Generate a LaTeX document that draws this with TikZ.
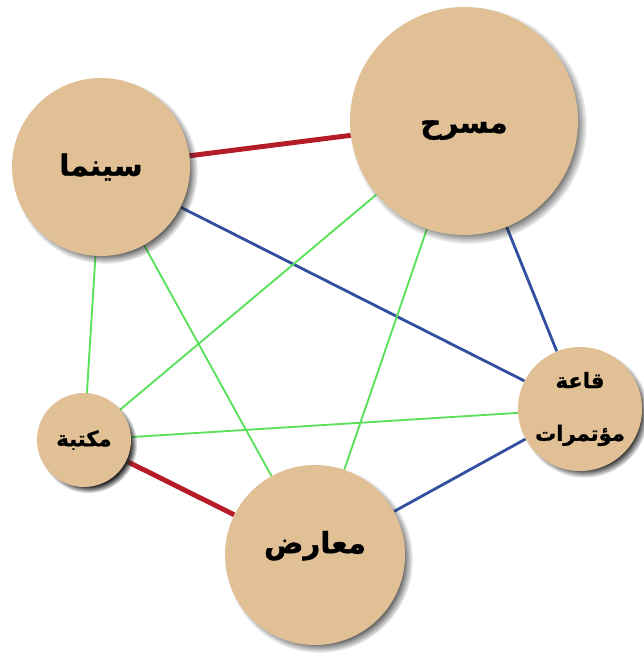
\documentclass[tikz,border=0pt]{standalone}
\usepackage{fontspec}
\newfontfamily\arabicfont[Script=Arabic,FakeBold=1.2]{DejaVu Sans}
\TeXXeTstate=1
\usetikzlibrary{shadows,backgrounds}
\definecolor{venuetan}{RGB}{224,192,148}
\definecolor{linkred}{RGB}{180,28,40}
\definecolor{linkblue}{RGB}{50,80,160}
\definecolor{linkgreen}{RGB}{90,225,90}

\begin{document}
\begin{tikzpicture}[x=0.03cm,y=-0.03cm,
  venue/.style={circle,fill=venuetan,inner sep=0pt,align=center,
    circular drop shadow={shadow xshift=3.5pt,shadow yshift=-3.5pt,shadow scale=1.04,fill=black!85},
    font=\arabicfont\bfseries\fontsize{25}{30}\selectfont},
  strong/.style={linkred,line width=4.2pt},
  medium/.style={linkblue,line width=2.4pt},
  weak/.style={linkgreen,line width=1.6pt}]
  \useasboundingbox (0,0) rectangle (643,657);
  % venues
  \node[venue,minimum size=5.34cm] (cinema) at (101,167) {\beginR سينما\endR};
  \node[venue,minimum size=6.84cm] (theatre) at (464,121) {\raisebox{-10pt}[0pt][0pt]{\beginR مسرح\endR}};
  \node[venue,minimum size=3.72cm,font=\arabicfont\bfseries\fontsize{18}{21}\selectfont] (hall) at (580,409) {\beginR قاعة\endR\\[24pt]\beginR مؤتمرات\endR};
  \node[venue,minimum size=2.82cm,font=\arabicfont\bfseries\fontsize{18}{21}\selectfont] (library) at (84,440) {\beginR مكتبة\endR};
  \node[venue,minimum size=5.4cm] (expo) at (315,555) {\raisebox{1.5pt}[0pt][0pt]{\beginR معارض\endR}};
  % links
  \begin{scope}[on background layer]
    \draw[strong] (cinema) -- (theatre);
    \draw[strong] (library) -- (expo);
    \draw[medium] (cinema) -- (hall);
    \draw[medium] (theatre) -- (hall);
    \draw[medium] (expo) -- (hall);
    \draw[weak] (cinema) -- (library);
    \draw[weak] (cinema) -- (expo);
    \draw[weak] (theatre) -- (library);
    \draw[weak] (theatre) -- (expo);
    \draw[weak] (library) -- (hall);
  \end{scope}
\end{tikzpicture}
\end{document}
